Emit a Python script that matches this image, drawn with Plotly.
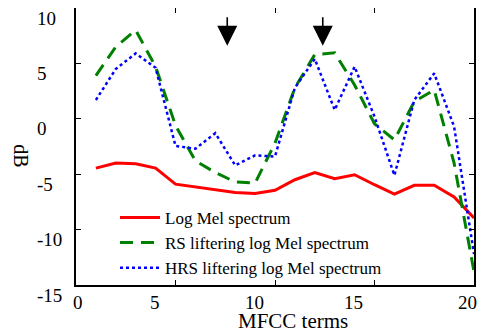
import plotly.graph_objects as go

mfcc_terms = list(range(1, 21))
log_mel = [-4.45, -4.0, -4.05, -4.45, -5.9, -6.15, -6.4, -6.65, -6.75, -6.45,
           -5.5, -4.85, -5.4, -5.05, -5.95, -6.8, -6.0, -6.0, -7.05, -8.95]
rs_liftering = [3.9, 6.5, 8.0, 4.7, -0.6, -3.8, -4.85, -5.7, -5.8, -2.2,
                2.8, 5.8, 5.95, 3.05, -0.45, -1.9, 1.55, 2.6, -4.0, -13.8]
hrs_liftering = [1.7, 4.5, 5.9, 4.6, -2.45, -2.7, -1.3, -4.2, -3.3, -3.4,
                 2.8, 5.4, 0.8, 4.7, 0.2, -5.1, 1.7, 4.1, -0.7, -12.2]
series_names = ["Log Mel spectrum", "RS liftering log Mel spectrum",
                "HRS liftering log Mel spectrum"]
arrow_x = [7.6, 12.4]
arrow_tip_y = 6.6
arrow_tail_y = 9.3
x_ticks = [0, 5, 10, 15, 20]
y_ticks = [-15, -10, -5, 0, 5, 10]
x_title = "MFCC terms"
y_title = "dB"

FONT = "Liberation Serif, Times New Roman, serif"

fig = go.Figure()
fig.add_trace(go.Scatter(x=mfcc_terms, y=log_mel, mode="lines", name=series_names[0],
                         line=dict(color="#ff0000", width=3)))
fig.add_trace(go.Scatter(x=mfcc_terms, y=rs_liftering, mode="lines", name=series_names[1],
                         line=dict(color="#008000", width=3, dash="13px,8px")))
fig.add_trace(go.Scatter(x=mfcc_terms, y=hrs_liftering, mode="lines", name=series_names[2],
                         line=dict(color="#0000ff", width=2.5, dash="dot")))

annotations = []
for ax_ in arrow_x:
    annotations.append(dict(x=ax_, y=arrow_tip_y, ax=ax_, ay=arrow_tail_y,
                            xref="x", yref="y", axref="x", ayref="y", text="",
                            showarrow=True, arrowhead=2, arrowsize=2.5,
                            arrowwidth=1.6, arrowcolor="black"))
for yt in y_ticks:
    annotations.append(dict(x=0, y=yt, xref="paper", yref="y", text=str(yt),
                            showarrow=False, xanchor="left", yanchor="middle",
                            xshift=-41, yshift=-10,
                            font=dict(family=FONT, size=19, color="black")))
x_min, x_max = x_ticks[0], x_ticks[-1]
for xt in x_ticks:
    if xt == x_min:
        shift = 2
    elif xt == x_max:
        shift = -7
    else:
        shift = -21
    annotations.append(dict(x=xt, y=0, xref="x", yref="paper", text=str(xt),
                            showarrow=False, xanchor="center", yanchor="middle",
                            xshift=shift, yshift=-17,
                            font=dict(family=FONT, size=19, color="black")))
annotations.append(dict(x=0.545, y=0, xref="paper", yref="paper", text=x_title,
                        showarrow=False, xanchor="center", yanchor="middle",
                        yshift=-36, borderpad=0,
                        font=dict(family=FONT, size=21, color="black")))
annotations.append(dict(x=0, y=0.468, xref="paper", yref="paper", text=y_title,
                        showarrow=False, xanchor="center", yanchor="middle",
                        xshift=-55, textangle=90,
                        font=dict(family=FONT, size=20, color="black")))

fig.update_layout(
    width=495, height=332,
    margin=dict(l=68, r=29, t=0, b=55, autoexpand=False),
    paper_bgcolor="white", plot_bgcolor="white",
    font=dict(family=FONT, size=19, color="black"),
    showlegend=True,
    legend=dict(x=0.098, y=0.307, xanchor="left", yanchor="top",
                bgcolor="rgba(0,0,0,0)", font=dict(family=FONT, size=17),
                tracegroupgap=0, itemwidth=40),
    annotations=annotations,
)
fig.update_xaxes(range=[x_min, x_max], tickvals=x_ticks, ticks="inside", ticklen=5,
                 tickwidth=1, tickcolor="black", showline=True, linecolor="black",
                 linewidth=2, mirror="ticks", showgrid=False, zeroline=False,
                 showticklabels=False, automargin=False)
fig.update_yaxes(range=[-15, 10], tickvals=y_ticks, ticks="inside", ticklen=5,
                 tickwidth=1, tickcolor="black", showline=True, linecolor="black",
                 linewidth=2, mirror="ticks", showgrid=False, zeroline=False,
                 showticklabels=False, automargin=False)

fig.write_html("out.html")
